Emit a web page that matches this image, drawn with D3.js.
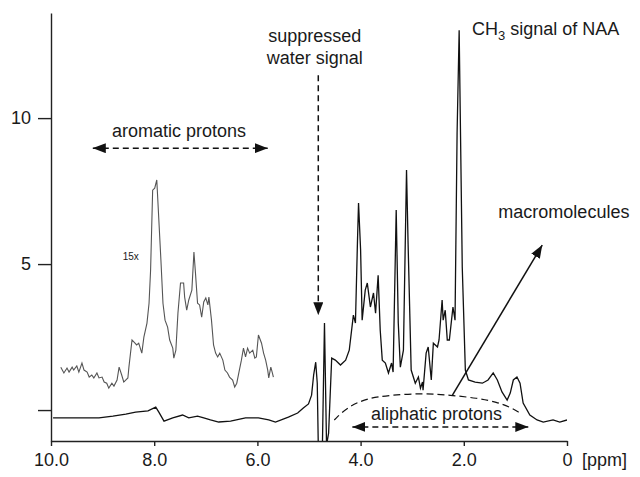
<!DOCTYPE html>
<html>
<head>
<meta charset="utf-8">
<script src="https://cdn.jsdelivr.net/npm/d3@7"></script>
<style>
  body { margin: 0; background: #fff; }
  text { font-family: "Liberation Sans", Arial, sans-serif; fill: #1a1a1a; }
</style>
</head>
<body>
<div class="spectrum"></div>
<script>
// 1H MR spectrum, chemical shift in ppm (reversed axis)

WIDTH = 640
HEIGHT = 477
LEFT = 51
RIGHT = 567
TOP = 13
BOTTOM = 441

// tick values
var ppmTicks = [10, 8, 6, 4, 2, 0];
var intensityTicks = [0, 5, 10];

// main spectrum [ppm, intensity]
var spectrum = [
  [9.96,-0.27],[9.52,-0.27],[9.07,-0.27],[8.80,-0.21],[8.55,-0.14],[8.36,-0.07],[8.12,-0.03],
  [7.97,0.10],[7.91,-0.07],[7.81,-0.38],[7.64,-0.27],[7.45,-0.17],[7.33,-0.27],[7.16,-0.21],
  [7.04,-0.27],[6.91,-0.34],[6.75,-0.41],[6.52,-0.38],[6.23,-0.27],[5.98,-0.27],[5.78,-0.34],
  [5.65,-0.41],[5.40,-0.24],[5.22,-0.10],[5.11,0.07],[5.01,0.21],[4.95,0.51],[4.91,1.20],
  [4.87,1.64],[4.84,0.92],[4.82,-1.20],[4.74,-1.20],[4.70,2.98],[4.66,-1.20],[4.62,-0.79],
  [4.56,1.78],[4.49,1.71],[4.39,1.54],[4.29,1.71],[4.22,2.05],[4.14,3.25],[4.10,2.98],
  [4.06,5.82],[4.04,7.09],[4.00,5.48],[3.97,3.08],[3.91,4.11],[3.87,4.35],[3.81,3.53],
  [3.75,4.01],[3.71,3.32],[3.66,4.62],[3.62,2.74],[3.58,1.71],[3.52,1.61],[3.46,1.27],
  [3.40,1.61],[3.37,1.30],[3.31,6.85],[3.27,2.98],[3.23,1.47],[3.17,2.05],[3.11,8.22],
  [3.08,5.72],[3.02,1.37],[2.94,0.92],[2.88,1.13],[2.84,0.75],[2.80,0.96],[2.79,0.68],
  [2.73,1.95],[2.69,2.16],[2.63,1.03],[2.59,2.29],[2.51,2.16],[2.48,2.40],[2.42,3.77],
  [2.40,3.08],[2.36,3.42],[2.32,2.40],[2.28,2.40],[2.21,3.53],[2.17,3.08],[2.13,9.49],
  [2.09,13.01],[2.03,4.90],[1.97,1.37],[1.91,1.03],[1.78,0.96],[1.64,0.92],[1.53,1.03],
  [1.43,1.27],[1.35,1.03],[1.26,0.62],[1.16,0.34],[1.10,0.58],[1.04,1.03],[0.97,1.13],
  [0.91,0.92],[0.85,0.24],[0.72,-0.17],[0.58,-0.34],[0.46,-0.41],[0.27,-0.34],[0.14,-0.41],
  [0.00,-0.34]
];

// aromatic region, 15x scaled, offset
var aromatic = [
  [9.81,1.47],[9.75,1.27],[9.69,1.44],[9.65,1.30],[9.59,1.47],[9.56,1.37],[9.50,1.51],
  [9.46,1.30],[9.40,1.61],[9.36,1.37],[9.30,1.30],[9.26,1.13],[9.21,1.20],[9.17,1.10],
  [9.11,1.27],[9.07,1.10],[9.01,1.13],[8.97,0.96],[8.92,0.92],[8.88,0.75],[8.82,0.92],
  [8.78,0.82],[8.72,1.03],[8.68,1.47],[8.63,1.20],[8.59,0.96],[8.51,1.10],[8.49,1.47],
  [8.43,2.40],[8.39,2.33],[8.34,2.23],[8.30,2.29],[8.24,1.95],[8.20,2.50],[8.14,2.98],
  [8.10,3.66],[8.07,4.79],[8.03,7.53],[7.99,7.60],[7.95,7.88],[7.91,6.51],[7.87,5.14],
  [7.83,3.66],[7.79,3.08],[7.74,2.84],[7.70,2.40],[7.64,2.12],[7.62,1.78],[7.58,2.05],
  [7.54,3.32],[7.49,4.35],[7.43,4.35],[7.41,3.87],[7.37,3.42],[7.33,3.77],[7.27,4.11],
  [7.23,5.41],[7.20,4.69],[7.16,3.66],[7.12,3.60],[7.08,3.18],[7.04,3.70],[7.00,3.84],
  [6.96,3.60],[6.94,3.87],[6.89,3.08],[6.85,2.23],[6.81,1.95],[6.77,1.82],[6.73,1.95],
  [6.67,1.71],[6.63,1.37],[6.58,1.27],[6.54,1.13],[6.48,1.03],[6.44,0.79],[6.40,0.92],
  [6.36,1.27],[6.31,1.71],[6.27,2.12],[6.23,1.82],[6.19,2.12],[6.15,1.95],[6.09,2.05],
  [6.05,1.78],[6.02,1.82],[5.98,2.57],[5.92,2.29],[5.88,1.95],[5.84,1.71],[5.80,1.37],
  [5.78,1.10],[5.74,1.47],[5.71,1.27],[5.69,1.13]
];

// macromolecule baseline (dashed)
var macro = [
  [4.51,-0.34],[4.26,0.10],[3.87,0.41],[3.42,0.51],[2.79,0.58],[2.26,0.51],
  [1.74,0.41],[1.35,0.27],[1.10,0.10],[0.91,-0.10]
];

var x = d3.scaleLinear().domain([10, 0]).range([LEFT, RIGHT]);
var y = d3.scaleLinear().domain([-1.06, 13.6]).range([BOTTOM, TOP]);

var svg = d3.select(".spectrum").append("svg")
    .attr("width", WIDTH)
    .attr("height", HEIGHT);

var defs = svg.append("defs");
defs.append("clipPath").attr("id", "plot")
  .append("rect")
    .attr("x", LEFT).attr("y", TOP)
    .attr("width", RIGHT - LEFT).attr("height", BOTTOM - TOP);

defs.append("marker")
    .attr("id", "head")
    .attr("viewBox", "0 0 13 10")
    .attr("refX", 13).attr("refY", 5)
    .attr("markerWidth", 13).attr("markerHeight", 10)
    .attr("markerUnits", "userSpaceOnUse")
    .attr("orient", "auto-start-reverse")
  .append("path")
    .attr("d", "M0,0 L13,5 L0,10 Z")
    .style("fill", "#111")
    .style("stroke", "none");

// axes
var xAxis = d3.axisBottom(x)
    .tickValues(ppmTicks)
    .tickSize(5).tickSizeOuter(0).tickPadding(7)
    .tickFormat(function(d) { return d === 0 ? "0" : d3.format(".1f")(d); });

var yAxis = d3.axisLeft(y)
    .tickValues(intensityTicks)
    .tickSize(13).tickSizeOuter(0).tickPadding(7)
    .tickFormat(function(d) { return d === 0 ? "" : d; });

var gx = svg.append("g")
    .attr("transform", "translate(0," + BOTTOM + ")")
    .call(xAxis);
var gy = svg.append("g")
    .attr("transform", "translate(" + LEFT + ",0)")
    .call(yAxis);

[gx, gy].forEach(function(g) {
  g.selectAll("path, line").style("stroke", "#222").style("stroke-width", "1.4px");
  g.selectAll("text").style("font-size", "18px").style("font-family", "Liberation Sans, Arial, sans-serif").style("fill", "#1a1a1a");
});

svg.append("text")
    .attr("x", RIGHT + 15)
    .attr("y", 466)
    .style("font-size", "18px")
    .text("[ppm]");

// spectra
var line = d3.line()
    .x(function(d) { return x(d[0]); })
    .y(function(d) { return y(d[1]); });

var plot = svg.append("g").attr("clip-path", "url(#plot)");

plot.append("path")
    .datum(spectrum)
    .attr("d", line)
    .style("fill", "none")
    .style("stroke", "#111")
    .style("stroke-width", "1.3px");

plot.append("path")
    .datum(aromatic)
    .attr("d", line)
    .style("fill", "none")
    .style("stroke", "#555")
    .style("stroke-width", "1.1px");

plot.append("path")
    .datum(macro)
    .attr("d", line.curve(d3.curveBasis))
    .style("fill", "none")
    .style("stroke", "#111")
    .style("stroke-width", "1.2px")
    .style("stroke-dasharray", "7,4");

// annotations, placed in ppm / intensity units
function arrow(x1, y1, x2, y2, dashed, both) {
  var a = svg.append("line")
      .attr("x1", x(x1)).attr("y1", y(y1))
      .attr("x2", x(x2)).attr("y2", y(y2))
      .style("stroke", "#111")
      .style("stroke-width", "1.5px")
      .attr("marker-end", "url(#head)");
  if (dashed) a.style("stroke-dasharray", "6,4");
  if (both) a.attr("marker-start", "url(#head)");
}

function label(px, py, txt, size, anchor) {
  return svg.append("text")
      .attr("x", x(px)).attr("y", y(py))
      .attr("text-anchor", anchor || "start")
      .style("font-size", size + "px")
      .text(txt);
}

arrow(9.19, 8.97, 5.80, 8.97, true, true);
label(7.52, 9.35, "aromatic protons", 18, "middle");
label(8.61, 5.14, "15x", 10);

arrow(4.82, 11.47, 4.82, 3.25, true, false);
label(4.89, 12.60, "suppressed", 18, "middle");
label(4.89, 11.85, "water signal", 18, "middle");

var naa = label(1.84, 12.84, "CH", 18);
naa.append("tspan").attr("dy", 5).style("font-size", "13px").text("3");
naa.append("tspan").attr("dy", -5).text("  signal of NAA");

label(1.33, 6.58, "macromolecules", 18);
arrow(2.22, 0.51, 0.48, 5.65, false, false);

label(2.53, -0.34, "aliphatic protons", 18, "middle");
arrow(4.16, -0.58, 0.75, -0.58, true, true);
</script>
</body>
</html>
